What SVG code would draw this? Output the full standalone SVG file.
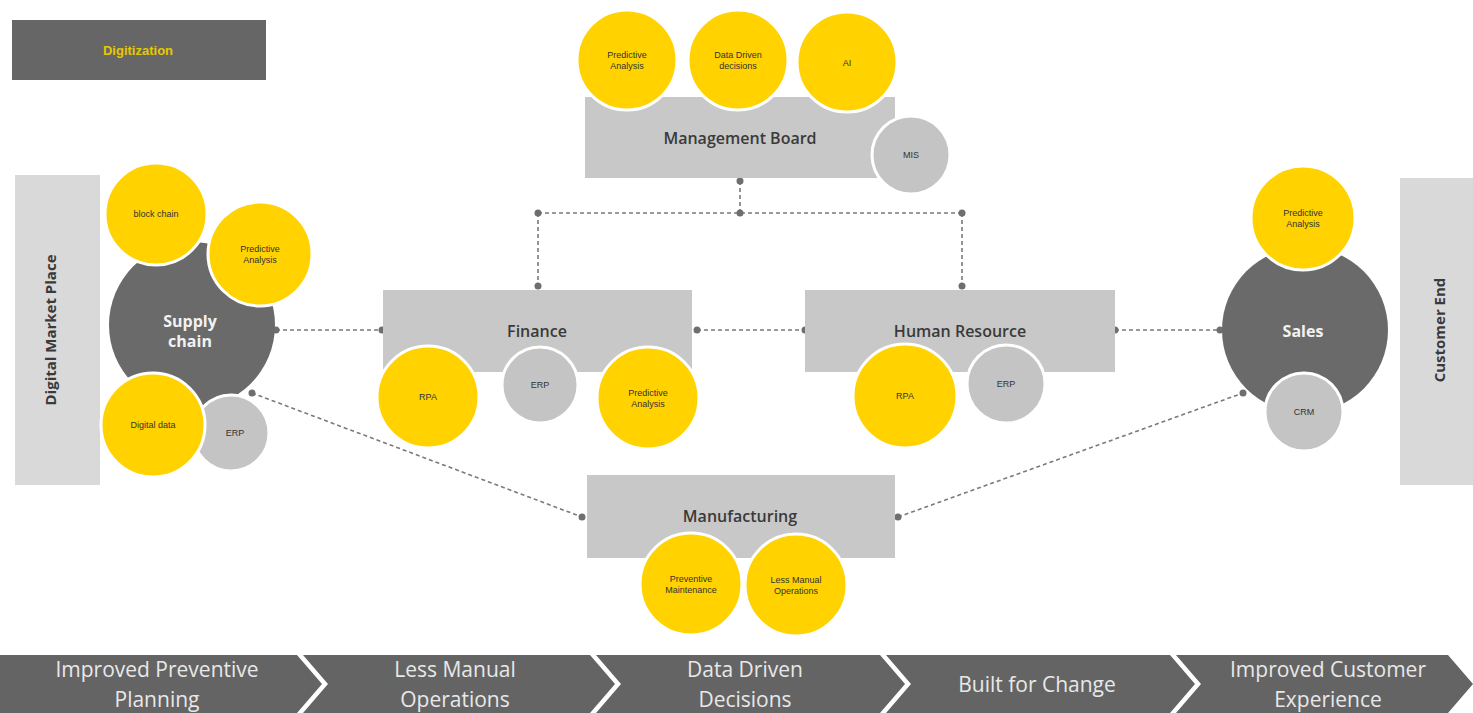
<svg xmlns="http://www.w3.org/2000/svg" width="1473" height="713" viewBox="0 0 1473 713">
<style>
.y{fill:#FFD200;stroke:#fff;stroke-width:3}
.g{fill:#c4c4c4;stroke:#fff;stroke-width:3}
.d{fill:#6a6a6a}
.box{fill:#c8c8c8}
.side{fill:#d9d9d9}
.lbl{font-family:"Liberation Sans",Arial,sans-serif;font-size:9px;fill:#333;text-anchor:middle}
.ttl{font-family:"Open Sans","Liberation Sans",sans-serif;font-size:16px;font-weight:600;fill:#3a3a3a;text-anchor:middle}
.wt{font-family:"Open Sans","Liberation Sans",sans-serif;font-size:16px;font-weight:700;fill:#f2f2f2;text-anchor:middle}
.side-t{font-family:"Open Sans","Liberation Sans",sans-serif;font-size:15px;font-weight:700;fill:#3a3a3a;text-anchor:middle}
.bar{fill:#646464}
.bt{font-family:"Open Sans","Liberation Sans",sans-serif;font-size:21px;fill:#e8e8e8;text-anchor:middle}
.cn{fill:none;stroke:#7a7a7a;stroke-width:1.6;stroke-dasharray:4 3}
.dot{fill:#6e6e6e}
</style>
<rect width="1473" height="713" fill="#fff"/>

<g id="connectors">
<path class="cn" d="M740 181 V213 M538 213 H962 M538 213 V286 M962 213 V286"/>
<path class="cn" d="M276 330 H382 M697 330 H805 M1115 330 H1220"/>
<path class="cn" d="M252 393 L582 517 M898 517 L1243 393"/>
<circle class="dot" cx="740" cy="181" r="3.5"/>
<circle class="dot" cx="740" cy="213" r="3.5"/>
<circle class="dot" cx="538" cy="213" r="3.5"/>
<circle class="dot" cx="962" cy="213" r="3.5"/>
<circle class="dot" cx="538" cy="286" r="3.5"/>
<circle class="dot" cx="962" cy="286" r="3.5"/>
<circle class="dot" cx="276" cy="330" r="3.5"/>
<circle class="dot" cx="382" cy="330" r="3.5"/>
<circle class="dot" cx="697" cy="330" r="3.5"/>
<circle class="dot" cx="805" cy="330" r="3.5"/>
<circle class="dot" cx="1115" cy="330" r="3.5"/>
<circle class="dot" cx="1220" cy="330" r="3.5"/>
<circle class="dot" cx="252" cy="393" r="3.5"/>
<circle class="dot" cx="582" cy="517" r="3.5"/>
<circle class="dot" cx="898" cy="517" r="3.5"/>
<circle class="dot" cx="1243" cy="393" r="3.5"/>
</g>

<g id="digitization">
<rect x="12" y="20" width="254" height="60" fill="#666"/>
<text x="138" y="55" font-family="Liberation Sans,Arial,sans-serif" font-size="13" font-weight="700" fill="#E8C800" text-anchor="middle">Digitization</text>
</g>

<g id="digital-market-place">
<rect class="side" x="15" y="175" width="85" height="310"/>
<text class="side-t" transform="translate(56 330) rotate(-90)">Digital Market Place</text>
</g>

<g id="customer-end">
<rect class="side" x="1400" y="178" width="73" height="307"/>
<text class="side-t" transform="translate(1445 330) rotate(-90)">Customer End</text>
</g>

<g id="management-board">
<rect class="box" x="585" y="97" width="310" height="81"/>
<text class="ttl" x="740" y="144">Management Board</text>
<circle class="y" cx="627" cy="60" r="50"/>
<text class="lbl" x="627" y="58">Predictive</text>
<text class="lbl" x="627" y="69">Analysis</text>
<circle class="y" cx="738" cy="60" r="50"/>
<text class="lbl" x="738" y="58">Data Driven</text>
<text class="lbl" x="738" y="69">decisions</text>
<circle class="y" cx="847" cy="62" r="50"/>
<text class="lbl" x="847" y="66">AI</text>
<circle class="g" cx="911" cy="155" r="39"/>
<text class="lbl" x="911" y="158">MIS</text>
</g>

<g id="supply-chain">
<circle class="d" cx="192" cy="325" r="83"/>
<text class="wt" x="190" y="327">Supply</text>
<text class="wt" x="190" y="347">chain</text>
<circle class="y" cx="156" cy="214" r="51"/>
<text class="lbl" x="156" y="217">block chain</text>
<circle class="y" cx="260" cy="254" r="52"/>
<text class="lbl" x="260" y="252">Predictive</text>
<text class="lbl" x="260" y="263">Analysis</text>
<circle class="g" cx="231" cy="433" r="38"/>
<text class="lbl" x="235" y="436">ERP</text>
<circle class="y" cx="153" cy="425" r="52"/>
<text class="lbl" x="153" y="428">Digital data</text>
</g>

<g id="finance">
<rect class="box" x="383" y="290" width="309" height="82"/>
<text class="ttl" x="537" y="337">Finance</text>
<circle class="y" cx="428" cy="397" r="51"/>
<text class="lbl" x="428" y="400">RPA</text>
<circle class="g" cx="540" cy="385" r="38"/>
<text class="lbl" x="540" y="388">ERP</text>
<circle class="y" cx="648" cy="398" r="51"/>
<text class="lbl" x="648" y="396">Predictive</text>
<text class="lbl" x="648" y="407">Analysis</text>
</g>

<g id="human-resource">
<rect class="box" x="805" y="290" width="310" height="82"/>
<text class="ttl" x="960" y="337">Human Resource</text>
<circle class="y" cx="905" cy="396" r="52"/>
<text class="lbl" x="905" y="399">RPA</text>
<circle class="g" cx="1006" cy="384" r="39"/>
<text class="lbl" x="1006" y="387">ERP</text>
</g>

<g id="sales">
<circle class="d" cx="1305" cy="330" r="83"/>
<text class="wt" x="1303" y="337">Sales</text>
<circle class="y" cx="1303" cy="218" r="52"/>
<text class="lbl" x="1303" y="216">Predictive</text>
<text class="lbl" x="1303" y="227">Analysis</text>
<circle class="g" cx="1304" cy="412" r="39"/>
<text class="lbl" x="1304" y="415">CRM</text>
</g>

<g id="manufacturing">
<rect class="box" x="587" y="475" width="308" height="83"/>
<text class="ttl" x="740" y="522">Manufacturing</text>
<circle class="y" cx="691" cy="584" r="51"/>
<text class="lbl" x="691" y="582">Preventive</text>
<text class="lbl" x="691" y="593">Maintenance</text>
<circle class="y" cx="796" cy="585" r="51"/>
<text class="lbl" x="796" y="583">Less Manual</text>
<text class="lbl" x="796" y="594">Operations</text>
</g>

<g id="value-chain">
<polygon class="bar" points="0,655 297,655 322,684 297,713 0,713"/>
<polygon class="bar" points="303,655 590,655 615,684 590,713 303,713 328,684"/>
<polygon class="bar" points="596,655 880,655 905,684 880,713 596,713 621,684"/>
<polygon class="bar" points="886,655 1170,655 1195,684 1170,713 886,713 911,684"/>
<polygon class="bar" points="1176,655 1448,655 1473,684 1448,713 1176,713 1201,684"/>
<text class="bt" x="157" y="677">Improved Preventive</text>
<text class="bt" x="157" y="707">Planning</text>
<text class="bt" x="455" y="677">Less Manual</text>
<text class="bt" x="455" y="707">Operations</text>
<text class="bt" x="745" y="677">Data Driven</text>
<text class="bt" x="745" y="707">Decisions</text>
<text class="bt" x="1037" y="692">Built for Change</text>
<text class="bt" x="1328" y="677">Improved Customer</text>
<text class="bt" x="1328" y="707">Experience</text>
</g>
</svg>
